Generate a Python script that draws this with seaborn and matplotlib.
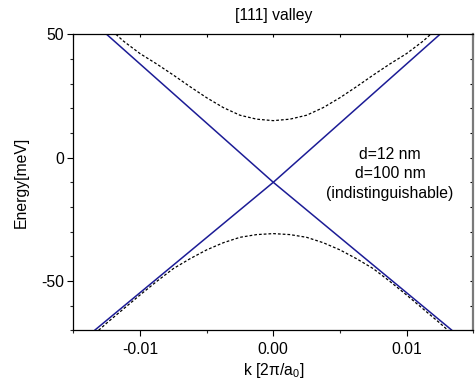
#! /usr/bin/env python
'''
Band dispersion near the [111] valley: linear branches and gapped (dashed) branches
'''
# imports
import matplotlib
matplotlib.use('Agg')
import matplotlib.pyplot as plt
from matplotlib.ticker import MultipleLocator
import numpy as np
import pandas as pd
import seaborn as sns

# settings
sns.set_theme(style='white')
plt.rcParams['font.family'] = ['Liberation Sans', 'DejaVu Sans']
plt.rcParams['mathtext.fontset'] = 'custom'
plt.rcParams['mathtext.rm'] = 'Liberation Sans'
plt.rcParams['mathtext.it'] = 'Liberation Sans'
plt.rcParams['text.color'] = 'black'
plt.rcParams['axes.labelcolor'] = 'black'
plt.rcParams['axes.titlecolor'] = 'black'

# DATA
# linear branches, k in 2pi/a0, E in meV
k_down = [-0.0125, 0.0, 0.0134]
E_down = [50, -10, -70]
k_up = [-0.0134, 0.0, 0.0125]
E_up = [-70, -10, 50]

# upper gapped branch
k_cond = [-0.0118, -0.01125, -0.0100, -0.00875, -0.0075, -0.00625, -0.0050, -0.00375, -0.0025, -0.00125, 0.0,
          0.00125, 0.0025, 0.00375, 0.0050, 0.00625, 0.0075, 0.00875, 0.0100, 0.01125, 0.0118]
E_cond = [50, 47.3, 42.2, 38.0, 33.5, 28.8, 24.3, 20.3, 17.2, 15.6, 15.0,
          15.6, 17.2, 20.3, 24.3, 28.8, 33.5, 38.0, 42.2, 47.3, 50]

# lower gapped branch
k_val = [-0.0131, -0.0125, -0.01125, -0.0100, -0.00875, -0.0075, -0.00625, -0.0050, -0.00375, -0.0025, -0.00125, 0.0,
         0.00125, 0.0025, 0.00375, 0.0050, 0.00625, 0.0075, 0.00875, 0.0100, 0.01125, 0.0125, 0.0131]
E_val = [-70, -67.1, -61.4, -55.7, -50.2, -45.0, -41.0, -37.4, -34.5, -32.3, -31.2, -30.8,
         -31.2, -32.3, -34.5, -37.4, -41.0, -45.0, -50.2, -55.7, -61.4, -67.1, -70]

blue = '#1c1c96'
fs = 11.3

fig = plt.figure(figsize=(4.75, 3.86), dpi=100)
ax = fig.add_axes([0.1543, 0.1443, 0.8421, 0.7668])

# dashed gapped branches
sns.lineplot(x='k', y='E', data=pd.DataFrame({'k': k_cond, 'E': E_cond}), sort=False, estimator=None,
             color='black', linewidth=0.9, linestyle=(0, (2.2, 1.6)), ax=ax)
sns.lineplot(x='k', y='E', data=pd.DataFrame({'k': k_val, 'E': E_val}), sort=False, estimator=None,
             color='black', linewidth=0.9, linestyle=(0, (2.2, 1.6)), ax=ax)
# linear branches
sns.lineplot(x='k', y='E', data=pd.DataFrame({'k': k_down, 'E': E_down}), sort=False, estimator=None,
             color=blue, linewidth=1.1, ax=ax)
sns.lineplot(x='k', y='E', data=pd.DataFrame({'k': k_up, 'E': E_up}), sort=False, estimator=None,
             color=blue, linewidth=1.1, ax=ax)

ax.set_xlim(-0.015, 0.015)
ax.set_ylim(-70, 50)
ax.xaxis.set_minor_locator(MultipleLocator(0.005))
ax.yaxis.set_minor_locator(MultipleLocator(10))
ax.set_xticks([-0.01, 0.0, 0.01])
ax.set_xticklabels(['-0.01', '0.00', '0.01'])
ax.set_yticks([-50, 0, 50])
ax.set_yticklabels(['-50', '0', '50'])

ax.tick_params(axis='both', which='major', direction='out', length=4.3, width=0.8, labelsize=fs, pad=2.5,
               colors='black', left=True, bottom=True)
ax.tick_params(axis='x', which='major', pad=4)
ax.tick_params(axis='both', which='minor', direction='out', length=2.2, width=0.8, left=True, bottom=True)

for side in ['left', 'bottom', 'top']:
    ax.spines[side].set_color('black')
    ax.spines[side].set_linewidth(0.9)
ax.spines['right'].set_color('#7a7a7a')
ax.spines['right'].set_linewidth(1.6)

# mirrored inward ticks on top and right
top = ax.secondary_xaxis('top')
top.xaxis.set_major_locator(MultipleLocator(0.005))
top.tick_params(direction='in', length=2.2, width=0.8, labeltop=False, colors='black')
top.spines['top'].set_visible(False)
right = ax.secondary_yaxis('right')
right.yaxis.set_major_locator(MultipleLocator(10))
right.tick_params(direction='in', length=2.2, width=0.8, labelright=False, colors='black')
right.spines['right'].set_visible(False)

ax.set_xlabel(r'k [2$\pi$/a$_0$]', fontsize=fs, labelpad=3, color='black')
ax.set_ylabel('Energy[meV]', fontsize=fs, labelpad=9, color='black')
ax.set_title('[111] valley', fontsize=fs, pad=10, color='black')

ax.text(0.00875, -6.6, 'd=12 nm\nd=100 nm\n(indistinguishable)', ha='center', va='center',
        multialignment='center', fontsize=fs, linespacing=1.4, color='black')

fig.savefig('out.png', dpi=100)
plt.close()
